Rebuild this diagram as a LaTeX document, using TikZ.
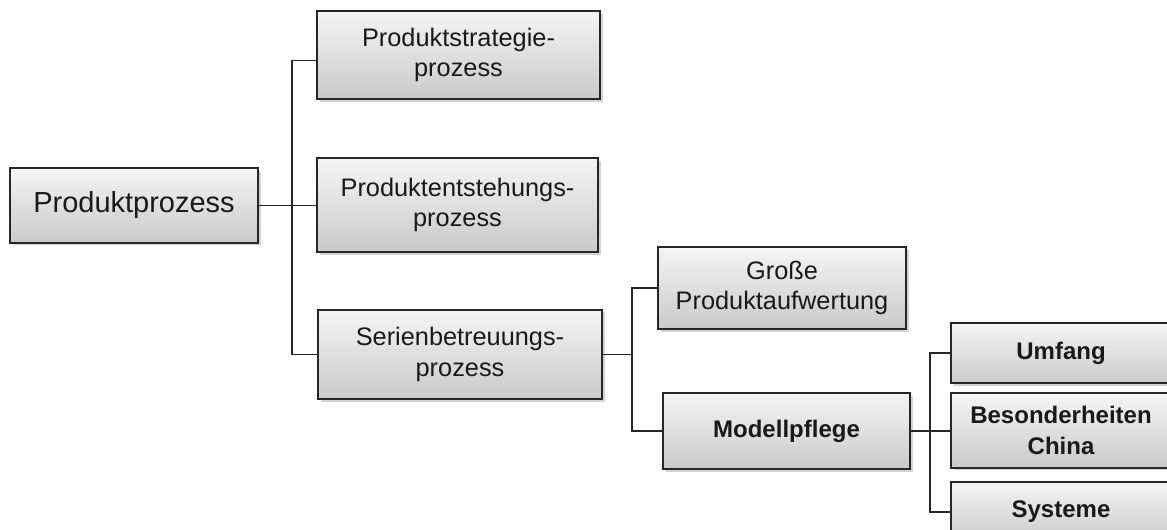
\documentclass[tikz,border=0pt]{standalone}
\usepackage{fontspec}
\setmainfont{Liberation Sans}
\usepackage{tikz}
\usetikzlibrary{shadows}

\begin{document}
\begin{tikzpicture}[x=0.75pt,y=-0.75pt,
    box/.style={draw=black!85,line width=1.1pt,align=center,text=black!90,
      top color=gray!8,bottom color=gray!42,
      drop shadow={shadow xshift=2pt,shadow yshift=-2pt,opacity=0.35},
      font=\fontsize{19pt}{23pt}\selectfont,inner sep=0pt},
    boldbox/.style={box,font=\fontsize{18pt}{23pt}\selectfont\bfseries},
    line/.style={draw=black!85,line width=1.1pt}]
    \useasboundingbox (0,0) rectangle (1167,530);
    \clip (0,0) rectangle (1167,530);

    \node[box,minimum width=186pt,minimum height=56pt,font=\fontsize{21.75pt}{26pt}\selectfont] (1) at (134,205.5) {Produktprozess};
    \node[box,minimum width=212pt,minimum height=66pt] (2) at (458.5,55) {Produktstrategie-\\prozess};
    \node[box,minimum width=211pt,minimum height=70.5pt] (3) at (457.5,205) {Produktentstehungs-\\prozess};
    \node[box,minimum width=213pt,minimum height=67pt] (4) at (460,354.5) {Serienbetreuungs-\\prozess};
    \node[box,minimum width=186pt,minimum height=61.5pt] (5) at (782,288) {Große\\Produktaufwertung};
    \node[boldbox,minimum width=185pt,minimum height=57pt] (6) at (786.5,431) {Modellpflege};
    \node[boldbox,minimum width=165pt,minimum height=45pt] (7) at (1061,353) {Umfang};
    \node[boldbox,minimum width=165pt,minimum height=56pt] (8) at (1061,430.5) {Besonderheiten\\China};
    \node[boldbox,minimum width=165pt,minimum height=45pt] (9) at (1061,512) {Systeme};

    % branch points
    \coordinate (a) at (292,205);
    \coordinate (b) at (632,320);
    \coordinate (c) at (930,430);

    \path[line]
    ([yshift=-4pt]2.west) -| (a) |- (4.west)
    (1.east) -- (1.east -| 3.west)
    (5.west) -| (b) |- (6.west)
    (4.east) -- (4.east -| b)
    (7.west) -| (c) |- (9.west)
    (6.east) -- (6.east -| 8.west)
    ;
\end{tikzpicture}
\end{document}
